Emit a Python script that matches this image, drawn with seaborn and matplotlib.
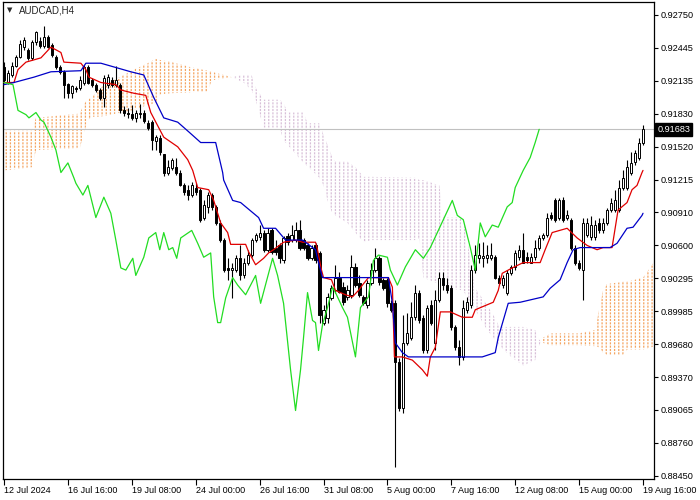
import numpy as np
import matplotlib
matplotlib.use("Agg")
import matplotlib.pyplot as plt
import seaborn as sns

# AUDCAD H4 candles (12 Jul - 19 Aug 2024), prices in units of 0.0001
opens = [9226, 9212, 9219, 9227, 9236, 9245, 9242, 9235, 9250, 9251,
         9246, 9254, 9247, 9236, 9226, 9222, 9211, 9202, 9207, 9207,
         9212, 9226, 9214, 9210, 9205, 9198, 9210, 9214, 9210, 9210,
         9186, 9184, 9183, 9179, 9183, 9184, 9174, 9175, 9157, 9160,
         9145, 9128, 9132, 9133, 9128, 9116, 9112, 9107, 9114, 9112,
         9086, 9096, 9107, 9096, 9081, 9065, 9039, 9037, 9037, 9048,
         9032, 9044, 9051, 9065, 9068, 9072, 9056, 9074, 9058, 9060,
         9046, 9069, 9065, 9065, 9074, 9065, 9060, 9048, 9060, 9053,
         8988, 8992, 9011, 9018, 9030, 9021, 9012, 9014, 9040, 9025,
         9012, 9004, 9025, 9037, 9048, 9028, 9028, 9006, 9006, 8951,
         8908, 8969, 8974, 8993, 9016, 8992, 8962, 9004, 8969, 9009,
         9030, 9023, 9020, 8984, 8965, 8956, 9000, 9004, 9037, 9048,
         9048, 9048, 9048, 9049, 9030, 9023, 9016, 9034, 9040, 9049,
         9056, 9049, 9044, 9049, 9058, 9067, 9070, 9088, 9102, 9086,
         9102, 9086, 9084, 9058, 9044, 9037, 9070, 9068, 9068, 9081,
         9074, 9081, 9093, 9093, 9093, 9114, 9114, 9128, 9138, 9142,
         9156]
closes = [9214, 9221, 9227, 9236, 9248, 9252, 9235, 9250, 9259, 9246,
          9254, 9245, 9238, 9226, 9222, 9210, 9202, 9209, 9206, 9214,
          9226, 9212, 9210, 9205, 9198, 9216, 9217, 9210, 9214, 9186,
          9184, 9183, 9179, 9184, 9184, 9176, 9170, 9158, 9161, 9147,
          9128, 9133, 9140, 9128, 9116, 9110, 9107, 9116, 9110, 9084,
          9098, 9107, 9096, 9081, 9065, 9037, 9037, 9039, 9048, 9032,
          9044, 9051, 9065, 9070, 9072, 9056, 9072, 9054, 9054, 9048,
          9067, 9063, 9070, 9074, 9058, 9058, 9048, 9058, 9046, 8995,
          9000, 9012, 9020, 9030, 9017, 9007, 9018, 9040, 9023, 9014,
          9006, 9025, 9037, 9048, 9026, 9020, 9006, 9000, 8951, 8908,
          8969, 8978, 8993, 9016, 8990, 8962, 9002, 8988, 9009, 9030,
          9023, 9018, 8984, 8965, 8956, 9002, 9007, 9037, 9051, 9051,
          9050, 9051, 9051, 9030, 9025, 9030, 9034, 9040, 9053, 9056,
          9044, 9046, 9049, 9058, 9067, 9070, 9086, 9086, 9084, 9102,
          9084, 9088, 9058, 9044, 9039, 9081, 9081, 9079, 9079, 9074,
          9081, 9093, 9100, 9102, 9114, 9123, 9133, 9137, 9146, 9156,
          9168.3]
highs = [9231, 9224, 9231, 9238, 9252, 9254, 9244, 9252, 9260, 9254,
         9265, 9256, 9249, 9238, 9228, 9224, 9212, 9210, 9209, 9218,
         9228, 9228, 9216, 9212, 9207, 9219, 9220, 9217, 9227, 9212,
         9190, 9188, 9191, 9186, 9192, 9186, 9177, 9177, 9163, 9163,
         9145, 9140, 9142, 9142, 9130, 9118, 9116, 9119, 9118, 9114,
         9102, 9110, 9109, 9098, 9084, 9067, 9048, 9044, 9051, 9060,
         9048, 9056, 9067, 9072, 9079, 9074, 9076, 9076, 9065, 9062,
         9069, 9072, 9079, 9082, 9084, 9067, 9062, 9060, 9062, 9055,
         9004, 9016, 9023, 9042, 9035, 9026, 9023, 9051, 9044, 9032,
         9014, 9028, 9044, 9058, 9050, 9030, 9030, 9009, 9009, 8955,
         8995, 8997, 9007, 9023, 9018, 8995, 9004, 9009, 9018, 9035,
         9035, 9030, 9023, 8986, 8972, 9009, 9012, 9042, 9060, 9062,
         9063, 9060, 9062, 9051, 9032, 9032, 9037, 9042, 9056, 9060,
         9072, 9054, 9053, 9065, 9070, 9072, 9090, 9091, 9104, 9104,
         9105, 9093, 9086, 9060, 9046, 9086, 9086, 9087, 9084, 9086,
         9086, 9095, 9104, 9112, 9121, 9130, 9140, 9147, 9149, 9160,
         9172]
lows = [9212, 9211, 9217, 9226, 9235, 9242, 9233, 9233, 9247, 9244,
        9244, 9244, 9236, 9225, 9220, 9198, 9198, 9198, 9203, 9205,
        9210, 9211, 9208, 9203, 9196, 9189, 9207, 9208, 9208, 9184,
        9181, 9179, 9177, 9175, 9179, 9174, 9168, 9149, 9149, 9144,
        9125, 9126, 9130, 9126, 9115, 9107, 9102, 9105, 9107, 9082,
        9084, 9090, 9093, 9079, 9063, 9035, 9028, 9011, 9035, 9028,
        9030, 9042, 9049, 9063, 9065, 9054, 9054, 9052, 9051, 9044,
        9044, 9060, 9063, 9063, 9056, 9056, 9046, 9046, 9044, 8988,
        8986, 8988, 9009, 9016, 9016, 9004, 9009, 9011, 9021, 9012,
        9004, 9002, 9023, 9035, 9023, 9018, 9003, 8998, 8853, 8906,
        8904, 8967, 8972, 8990, 8988, 8960, 8960, 8986, 8962, 9007,
        9018, 9016, 8981, 8962, 8948, 8953, 8997, 9002, 9034, 9044,
        9040, 9044, 9046, 9029, 9023, 9020, 9014, 9032, 9037, 9046,
        9044, 9044, 9044, 9046, 9056, 9065, 9068, 9084, 9082, 9084,
        9082, 9084, 9056, 9042, 9037, 9009, 9068, 9065, 9065, 9072,
        9072, 9079, 9091, 9091, 9091, 9112, 9112, 9126, 9135, 9140,
        9154]

# Ichimoku lines, vertices as (bar, price in 0.0001)
tenkan_x = [0, 2.5, 3.5, 5.5, 9.25, 11.75, 14.25, 15, 19.25, 20.5, 21.25, 24.25, 28, 29.25,
            32.5, 35.5, 36.75, 39, 40, 43.5, 46, 47.25, 48.5, 51.25, 52.5, 54.25, 56, 56.75,
            60.5, 61.25, 63, 65, 66.25, 67.5, 70, 73, 74.75, 78, 78.5, 79.5, 80, 82, 83, 85.5,
            87.25, 88.75, 89.75, 91.25, 96.25, 97.25, 97.75, 99.75, 102.25, 104.75, 106, 106.75,
            108, 109.25, 111.75, 114.75, 117.25, 118, 122.5, 123.75, 124.75, 127.25, 130, 134.25,
            135.5, 137.25, 141, 143.5, 146, 148.5, 150, 152.25, 153.75, 156, 157.25, 158.5,
            159.75, 160]
tenkan_y = [9212, 9212, 9224, 9231, 9235, 9245, 9240, 9231, 9230, 9224, 9217, 9212, 9210, 9205,
            9202, 9200, 9184, 9168, 9161, 9152, 9140, 9130, 9114, 9112, 9102, 9081, 9072, 9061,
            9061, 9054, 9042, 9048, 9053, 9056, 9063, 9065, 9063, 9063, 9056, 9037, 9030, 9028, 9018, 9014,
            9012, 9018, 9023, 9030, 9030, 9021, 8956, 8956, 8953, 8944, 8938, 8956,
            8965, 8998, 8998, 8993, 8993, 9000, 9007, 9018, 9034, 9039, 9044, 9044,
            9056, 9072, 9076, 9067, 9060, 9056, 9058, 9058, 9093, 9100, 9112, 9116,
            9128, 9130]
kijun_x = [0, 2.5, 7.5, 11.75, 19.25, 20.5, 24.25, 28, 31.75, 35, 37.5, 40, 43.5, 46.25, 49.25,
           53, 54.75, 55, 57.25, 59.25, 63.75, 65, 68, 70.5, 74.75, 78, 78.75, 79.75, 96.25,
           97.25, 98, 99.75, 101.25, 119.75, 123, 123.75, 126.25, 129.25, 135, 136.75, 139.25,
           141, 142.5, 144.25, 151.75, 153.5, 156, 157.5, 159.75, 160]
kijun_y = [9210, 9212, 9217, 9222, 9223, 9230, 9230, 9226, 9222, 9219, 9198, 9179, 9175, 9166, 9156,
           9156, 9128, 9121, 9102, 9100, 9086, 9076, 9076, 9065, 9065, 9056, 9044, 9030, 9030,
           9006, 8969, 8960, 8956, 8956, 8960, 8974, 9006, 9007, 9012, 9020, 9028,
           9044, 9056, 9058, 9058, 9062, 9076, 9077, 9088, 9090]
chikou_x = [0, 2.25, 3.5, 5.5, 6.25, 8, 9.25, 10, 11.75, 13, 14.25, 16, 17.5, 18, 19.75, 21, 23,
            25, 26.75, 28, 29.25, 30.5, 32.25, 33, 35, 36.25, 38, 39, 40, 41.25, 42.25, 43.25,
            44.25, 47, 48.5, 50, 51.75, 52.5, 53.5, 54.25, 55.5, 57.25, 58.5, 60.5, 63, 64.25,
            67.25, 68.5, 70, 71.75, 73, 74.25, 75, 76, 77.25, 78, 78.75, 79.75, 81, 82.25, 83,
            84.75, 86, 88, 89.25, 91.25, 92.5, 93.75, 96, 96.75, 98.5, 100.5, 103, 105, 106.75,
            110, 112.25, 113.5, 115, 116.75, 118, 119.25, 120.5, 122.25, 123.75, 126, 127.25,
            128, 130, 131.75, 133, 134]
chikou_y = [9212, 9210, 9186, 9182, 9179, 9184, 9177, 9175, 9161, 9149, 9128, 9137, 9123, 9118,
            9107, 9116, 9086, 9105, 9090, 9065, 9039, 9037, 9048, 9032, 9049, 9067, 9072, 9056,
            9072, 9056, 9058, 9048, 9067, 9074, 9062, 9049, 9053, 9012, 8988, 8988, 9011, 9030,
            9023, 9014, 9032, 9006, 9048, 9032, 9006, 8944, 8906, 8944, 8974, 9016, 8990, 8988,
            8962, 8986, 9002, 9021, 9016, 9002, 8993, 8956, 9002, 9012, 9046, 9051, 9049, 9037,
            9023, 9040, 9056, 9048, 9058, 9084, 9102, 9088, 9084, 9058, 9037, 9081, 9068, 9079,
            9077, 9096, 9100, 9114, 9130, 9142, 9156, 9168.3]

# Kumo: Senkou Span A / B on shared bars (price in 0.0001)
cloud_x = [0, 7, 8, 19, 20, 21, 22, 24, 28, 32, 36, 38, 39, 42, 47, 51, 52, 55, 57, 60, 62,
           63, 65, 69, 70, 71, 75, 76, 79, 80, 81, 82, 83, 86, 88, 90, 92, 103, 104, 105,
           109, 110, 115, 116, 117, 118, 121, 123, 124, 127, 130, 133, 134, 135, 137, 144,
           148, 149, 150, 151, 155, 156, 160, 161, 163]
span_a = [9167, 9167, 9179, 9183, 9192, 9196, 9198, 9207, 9215, 9223, 9230, 9234, 9233, 9231,
          9226, 9223, 9222, 9219, 9217, 9212, 9205, 9196, 9170, 9170, 9158, 9154, 9137, 9134,
          9123, 9116, 9102, 9092, 9088, 9081, 9072, 9063, 9065, 9065, 9067, 9030, 9024, 9021,
          9018, 9011, 9006, 9000, 8981, 8972, 8967, 8956, 8948, 8953, 8967, 8974, 8978, 8978,
          8981, 9000, 9018, 9024, 9026, 9026, 9030, 9035, 9046]
span_b = [9130, 9133, 9149, 9151, 9165, 9177, 9180, 9180, 9183, 9186, 9191, 9193, 9201, 9202,
          9203, 9204, 9214, 9216, 9217, 9219, 9219, 9207, 9196, 9196, 9193, 9184, 9184, 9174,
          9174, 9163, 9154, 9144, 9138, 9138, 9133, 9124, 9124, 9123, 9121, 9121, 9116, 9086,
          9086, 9065, 9042, 9020, 9004, 8992, 8984, 8984, 8984, 8981, 8972, 8969, 8967, 8967,
          8966, 8965, 8960, 8958, 8958, 8963, 8963, 8964, 8966]

label_bars = [0, 16, 32, 48, 64, 80, 96, 112, 128, 144, 160]
date_labels = ["12 Jul 2024", "16 Jul 16:00", "19 Jul 08:00", "24 Jul 00:00", "26 Jul 16:00",
               "31 Jul 08:00", "5 Aug 00:00", "7 Aug 16:00", "12 Aug 08:00", "15 Aug 00:00",
               "19 Aug 16:00"]
price_ticks = [0.92750, 0.92445, 0.92135, 0.91830, 0.91520, 0.91215, 0.90910, 0.90600,
               0.90295, 0.89985, 0.89680, 0.89370, 0.89065, 0.88760, 0.88450]
last_price = 0.91683

sns.set_style("white")
plt.rcParams['font.family'] = ['Liberation Sans', 'DejaVu Sans']
plt.rcParams['hatch.linewidth'] = 0.9

o = np.array(opens) / 1e4
c = np.array(closes) / 1e4
h = np.array(highs) / 1e4
l = np.array(lows) / 1e4
bars = np.arange(len(o))

fig = plt.figure(figsize=(7, 5), dpi=100)
ax = fig.add_axes([3 / 700, 21 / 500, 651 / 700, 477 / 500])

# cloud: vertical dotted stripes like MT4 (white hatch breaks lines into dots)
cx = np.array(cloud_x, dtype=float)
sa = np.array(span_a) / 1e4
sb = np.array(span_b) / 1e4
ax.fill_between(cx, sa, sb, where=sa >= sb, interpolate=True, facecolor='none',
                edgecolor='#F4A460', hatch='||||', linewidth=0, zorder=1)
ax.fill_between(cx, sa, sb, where=sa <= sb, interpolate=True, facecolor='none',
                edgecolor='#D8BFD8', hatch='||||', linewidth=0, zorder=1)
ax.fill_between(cx, sa, sb, facecolor='none', edgecolor='white', hatch='-----',
                linewidth=0, zorder=1.2)

ax.axhline(last_price, color='#C0C0C0', lw=0.8, zorder=1.5)

# candles
ax.vlines(bars, l, h, color='black', lw=0.8, zorder=2)
body_low = np.minimum(o, c)
body_h = np.maximum(np.abs(c - o), 0.00003)
colors = np.where(c < o, 'black', 'white')
ax.bar(bars, body_h, bottom=body_low, width=0.55, color=colors, edgecolor='black',
       linewidth=0.7, zorder=2.5)

# ichimoku lines
sns.lineplot(x=tenkan_x, y=np.array(tenkan_y) / 1e4, ax=ax, color='#E00000', lw=0.9,
             estimator=None, sort=False, legend=False, zorder=3)
sns.lineplot(x=kijun_x, y=np.array(kijun_y) / 1e4, ax=ax, color='#0000C8', lw=0.9,
             estimator=None, sort=False, legend=False, zorder=3)
sns.lineplot(x=chikou_x, y=np.array(chikou_y) / 1e4, ax=ax, color='#22DD22', lw=0.9,
             estimator=None, sort=False, legend=False, zorder=3)

ax.set_xlim(-0.25, 162.75)
ax.set_ylim(0.88421, 0.92871)
ax.set_xlabel('')
ax.set_ylabel('')

ax.yaxis.tick_right()
ax.set_yticks(price_ticks)
ax.set_yticklabels([f"{p:.5f}" for p in price_ticks])
ax.tick_params(axis='y', direction='out', length=3, width=0.8, pad=2, labelsize=6.6,
               right=True, left=False, colors='black')
ax.set_xticks(label_bars)
ax.set_xticklabels(date_labels)
ax.tick_params(axis='x', direction='out', length=4, width=0.8, pad=0.8, labelsize=6.5,
               bottom=True, colors='black')
for t in ax.get_xticklabels():
    t.set_horizontalalignment('left')

for s in ax.spines.values():
    s.set_color('black')
    s.set_linewidth(0.9)

ax.text(1.005, last_price, f"{last_price:.5f}", transform=ax.get_yaxis_transform(),
        ha='left', va='center', color='white', fontsize=6.6, zorder=5,
        bbox=dict(boxstyle='square,pad=0.2', facecolor='black', edgecolor='black'))

fig.text(7 / 700, 1 - 10.5 / 500, '\u25bc', fontsize=5, family='DejaVu Sans', va='center')
fig.text(19 / 700, 1 - 10.5 / 500, 'AUDCAD,H4', fontsize=7, va='center')

fig.savefig('out.png', dpi=100)
